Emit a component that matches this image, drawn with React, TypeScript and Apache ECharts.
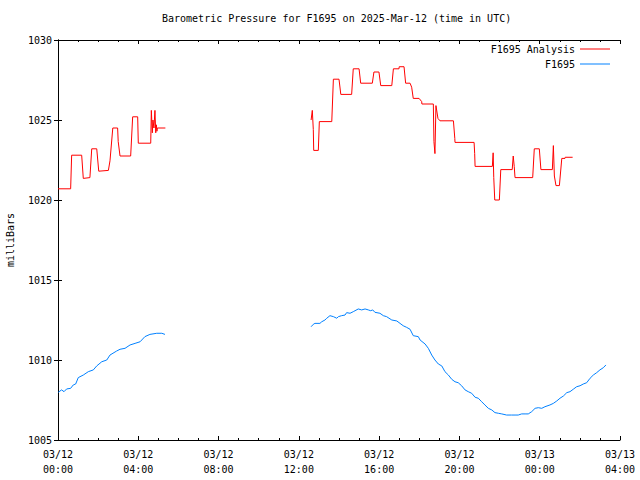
import React, { useEffect, useRef } from "react";
import * as echarts from "echarts";

// Hours since 2025-03-12 00:00 UTC
const analysisHoursA = [0, 0.63, 0.68, 1.18, 1.26, 1.59, 1.68, 1.93, 2.03, 2.51, 2.59, 2.73, 2.97, 3.0, 3.09, 3.62, 3.72, 3.97, 4.0, 4.62, 4.65, 4.7, 4.73, 4.78, 4.83, 4.87, 4.9, 4.93, 4.95, 5.35];
const analysisValuesA = [1020.7, 1020.7, 1022.8, 1022.8, 1021.35, 1021.4, 1023.2, 1023.2, 1021.8, 1021.85, 1022.45, 1024.5, 1024.5, 1023.65, 1022.75, 1022.75, 1025.2, 1025.2, 1023.55, 1023.55, 1025.6, 1024.2, 1025.0, 1024.5, 1025.6, 1024.2, 1024.7, 1024.3, 1024.5, 1024.5];

const analysisHoursB = [12.61, 12.67, 12.72, 12.74, 12.97, 13.02, 13.64, 13.72, 14.0, 14.09, 14.63, 14.71, 15.0, 15.08, 15.66, 15.74, 15.99, 16.08, 16.63, 16.71, 16.99, 17.0, 17.24, 17.32, 17.54, 17.62, 17.7, 17.99, 18.12, 18.13, 18.7, 18.73, 18.78, 18.83, 18.88, 18.93, 19.03, 19.7, 19.77, 19.78, 20.73, 20.76, 20.78, 21.64, 21.68, 21.71, 21.76, 21.99, 22.06, 22.63, 22.68, 22.73, 22.77, 23.65, 23.73, 23.98, 24.06, 24.63, 24.68, 24.73, 24.81, 24.98, 25.1, 25.26, 25.27, 25.64];
const analysisValuesB = [1025.0, 1025.6, 1024.4, 1023.1, 1023.1, 1024.9, 1024.9, 1027.55, 1027.55, 1026.6, 1026.6, 1028.2, 1028.2, 1027.3, 1027.3, 1028.0, 1028.0, 1027.15, 1027.15, 1028.2, 1028.2, 1028.33, 1028.33, 1027.3, 1027.3, 1027.05, 1026.35, 1026.35, 1026.15, 1026.0, 1026.0, 1023.65, 1022.9, 1025.9, 1025.5, 1025.1, 1024.95, 1024.95, 1023.85, 1023.6, 1023.6, 1022.9, 1022.1, 1022.1, 1022.95, 1021.4, 1020.0, 1020.0, 1021.9, 1021.9, 1022.75, 1022.1, 1021.4, 1021.4, 1023.2, 1023.2, 1021.9, 1021.9, 1023.4, 1021.5, 1020.9, 1020.9, 1022.6, 1022.6, 1022.67, 1022.67];

const stationHoursA = [0.01, 0.18, 0.3, 0.43, 0.63, 0.76, 0.88, 1.01, 1.26, 1.51, 1.76, 1.93, 2.18, 2.43, 2.59, 2.92, 3.09, 3.34, 3.59, 3.84, 4.09, 4.33, 4.58, 4.92, 5.17, 5.33];
const stationValuesA = [1007.98, 1008.13, 1008.02, 1008.19, 1008.23, 1008.44, 1008.5, 1008.9, 1009.06, 1009.27, 1009.38, 1009.63, 1009.89, 1010.0, 1010.31, 1010.56, 1010.67, 1010.73, 1010.94, 1011.04, 1011.14, 1011.46, 1011.6, 1011.67, 1011.67, 1011.6];

const stationHoursB = [12.61, 12.72, 12.8, 13.05, 13.14, 13.3, 13.39, 13.55, 13.72, 13.89, 13.97, 14.13, 14.3, 14.38, 14.55, 14.71, 14.96, 15.13, 15.3, 15.46, 15.58, 15.68, 15.79, 16.04, 16.21, 16.37, 16.63, 16.88, 17.04, 17.2, 17.37, 17.54, 17.7, 17.95, 18.04, 18.29, 18.45, 18.62, 18.78, 18.95, 19.12, 19.28, 19.45, 19.62, 19.78, 19.94, 20.11, 20.28, 20.44, 20.61, 20.78, 20.94, 21.11, 21.27, 21.44, 21.61, 21.77, 21.94, 22.11, 22.35, 22.6, 22.77, 22.93, 23.1, 23.27, 23.43, 23.6, 23.77, 23.93, 24.1, 24.26, 24.51, 24.68, 24.85, 25.01, 25.18, 25.35, 25.51, 25.67, 25.84, 26.01, 26.17, 26.34, 26.51, 26.67, 26.84, 27.0, 27.17, 27.3];
const stationValuesB = [1012.08, 1012.23, 1012.29, 1012.29, 1012.39, 1012.5, 1012.61, 1012.77, 1012.71, 1012.61, 1012.71, 1012.77, 1012.81, 1012.96, 1012.92, 1013.02, 1013.19, 1013.13, 1013.19, 1013.13, 1013.08, 1013.13, 1012.98, 1012.92, 1012.77, 1012.71, 1012.5, 1012.44, 1012.29, 1012.14, 1012.04, 1011.92, 1011.52, 1011.46, 1011.25, 1011.0, 1010.73, 1010.31, 1010.0, 1009.75, 1009.63, 1009.27, 1009.06, 1008.79, 1008.64, 1008.58, 1008.39, 1008.13, 1008.02, 1007.92, 1007.67, 1007.61, 1007.39, 1007.19, 1006.98, 1006.88, 1006.71, 1006.67, 1006.63, 1006.56, 1006.56, 1006.56, 1006.56, 1006.63, 1006.63, 1006.63, 1006.77, 1006.98, 1007.02, 1006.98, 1007.08, 1007.19, 1007.29, 1007.44, 1007.61, 1007.75, 1007.96, 1008.02, 1008.17, 1008.33, 1008.39, 1008.5, 1008.58, 1008.86, 1009.06, 1009.21, 1009.38, 1009.52, 1009.69];

const dayLabels = ["03/12", "03/13"];
const xMin = 0;
const xMax = 28;
const xInterval = 4;
const yMin = 1005;
const yMax = 1030;
const yInterval = 5;
const titleText = "Barometric Pressure for F1695 on 2025-Mar-12 (time in UTC)";
const yName = "milliBars";
const analysisName = "F1695 Analysis";
const stationName = "F1695";

const FONT = "'DejaVu Sans Mono', 'Liberation Mono', monospace";

function pairs(hs: number[], vs: number[]) {
  return hs.map((h, i) => [h, vs[i]]);
}
function withGap(a: number[][], b: number[][]) {
  const gapX = (a[a.length - 1][0] + b[0][0]) / 2;
  return [...a, [gapX, null], ...b];
}

function fmtHour(h: number) {
  const day = dayLabels[Math.floor(h / 24)] ?? dayLabels[dayLabels.length - 1];
  const hh = Math.round(h % 24);
  return `${day}\n${String(hh).padStart(2, "0")}:00`;
}

export default function App() {
  const ref = useRef<HTMLDivElement>(null);
  useEffect(() => {
    if (!ref.current) return;
    const chart = echarts.init(ref.current, null, { renderer: "svg" });
    const axisLine = { show: true, lineStyle: { color: "#000", width: 1 } };
    chart.setOption({
      animation: false,
      backgroundColor: "#fff",
      title: {
        text: titleText,
        left: 162,
        top: 13,
        padding: 0,
        textStyle: { fontFamily: FONT, fontSize: 10, fontWeight: "normal", color: "#000" },
      },
      legend: {
        orient: "vertical",
        right: 30,
        top: 43,
        align: "right",
        padding: 0,
        itemGap: 3,
        itemWidth: 30,
        itemHeight: 1,
        icon: "rect",
        textStyle: { fontFamily: FONT, fontSize: 10, color: "#000", lineHeight: 12 },
        data: [analysisName, stationName],
      },
      grid: { left: 58, right: 20, top: 40, bottom: 40, containLabel: false, outerBoundsMode: "none" },
      xAxis: [
        {
          type: "value",
          min: xMin,
          max: xMax,
          interval: xInterval,
          position: "bottom",
          axisLine,
          axisTick: { show: true, inside: true, length: 4, lineStyle: { color: "#000" } },
          minorTick: { show: true, splitNumber: 4, length: 2, lineStyle: { color: "#000" } },
          splitLine: { show: false },
          axisLabel: {
            formatter: (v: number) => fmtHour(v),
            fontFamily: FONT,
            fontSize: 10,
            color: "#000",
            lineHeight: 15,
            margin: 7,
          },
        },
        {
          type: "value",
          min: xMin,
          max: xMax,
          interval: xInterval,
          position: "top",
          axisLine,
          axisTick: { show: true, inside: true, length: 4, lineStyle: { color: "#000" } },
          minorTick: { show: true, splitNumber: 4, length: 2, lineStyle: { color: "#000" } },
          splitLine: { show: false },
          axisLabel: { show: false },
        },
      ],
      yAxis: [
        {
          type: "value",
          min: yMin,
          max: yMax,
          interval: yInterval,
          position: "left",
          name: yName,
          nameLocation: "middle",
          nameRotate: 90,
          nameGap: 43,
          nameTextStyle: { fontFamily: FONT, fontSize: 10, color: "#000" },
          axisLine,
          axisTick: { show: true, inside: true, length: 4, lineStyle: { color: "#000" } },
          splitLine: { show: false },
          axisLabel: {
            formatter: (v: number) => String(v),
            fontFamily: FONT,
            fontSize: 10,
            color: "#000",
            margin: 6,
          },
        },
        {
          type: "value",
          min: yMin,
          max: yMax,
          interval: yInterval,
          position: "right",
          axisLine,
          axisTick: { show: true, inside: true, length: 4, lineStyle: { color: "#000" } },
          splitLine: { show: false },
          axisLabel: { show: false },
        },
      ],
      series: [
        {
          name: analysisName,
          type: "line",
          xAxisIndex: 0,
          yAxisIndex: 0,
          showSymbol: false,
          connectNulls: false,
          color: "#ff0000",
          lineStyle: { width: 1, color: "#ff0000" },
          data: withGap(pairs(analysisHoursA, analysisValuesA), pairs(analysisHoursB, analysisValuesB)),
        },
        {
          name: stationName,
          type: "line",
          xAxisIndex: 0,
          yAxisIndex: 0,
          showSymbol: false,
          connectNulls: false,
          color: "#0080ff",
          lineStyle: { width: 1, color: "#0080ff" },
          data: withGap(pairs(stationHoursA, stationValuesA), pairs(stationHoursB, stationValuesB)),
        },
      ],
    });
    return () => chart.dispose();
  }, []);
  return (
    <div
      ref={ref}
      style={{ position: "fixed", left: 0, top: 0, width: 640, height: 480, background: "#fff" }}
    />
  );
}
